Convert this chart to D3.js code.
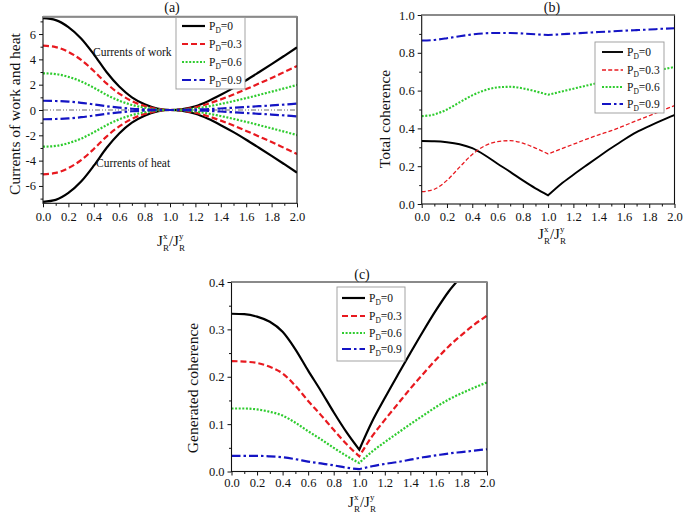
<!DOCTYPE html>
<html><head><meta charset="utf-8">
<script src="https://cdn.jsdelivr.net/npm/d3@7"></script>
<style>body{margin:0;background:#fff} text{font-family:"Liberation Serif","Times New Roman",serif;fill:#111}</style>
</head><body><svg id="chart" width="685" height="513"></svg>
<script>
// ---------- data ----------
const xValues = [0,0.1,0.2,0.3,0.4,0.5,0.6,0.7,0.8,0.9,1.0,1.1,1.2,1.3,1.4,1.5,1.6,1.7,1.8,1.9,2.0];
const pdLabels = ["0","0.3","0.6","0.9"];
const xTicks = [0,0.2,0.4,0.6,0.8,1.0,1.2,1.4,1.6,1.8,2.0];
const yTicksA = [-6,-4,-2,0,2,4,6];
const yTicksB = [0,0.2,0.4,0.6,0.8,1.0];
const yTicksC = [0,0.1,0.2,0.3,0.4];

// (a) currents of work (positive) and heat (negative)
const workPD0  = [7.25,7.1,6.55,5.65,4.4,3.0,1.85,1.0,0.45,0.12,0,0.08,0.3,0.7,1.2,1.75,2.35,2.98,3.62,4.28,4.95];
const workPD03 = [5.08,4.97,4.59,3.96,3.08,2.1,1.3,0.7,0.32,0.08,0,0.06,0.21,0.49,0.84,1.23,1.65,2.09,2.53,3.0,3.47];
const workPD06 = [2.9,2.84,2.62,2.26,1.76,1.2,0.74,0.4,0.18,0.05,0,0.03,0.12,0.28,0.48,0.7,0.94,1.19,1.45,1.71,1.98];
const workPD09 = [0.73,0.71,0.66,0.57,0.44,0.3,0.19,0.1,0.05,0.01,0,0.01,0.03,0.07,0.12,0.18,0.24,0.3,0.36,0.43,0.5];
const heatPD0  = [-7.25,-7.1,-6.55,-5.65,-4.4,-3.0,-1.85,-1.0,-0.45,-0.12,0,-0.08,-0.3,-0.7,-1.2,-1.75,-2.35,-2.98,-3.62,-4.28,-4.95];
const heatPD03 = [-5.08,-4.97,-4.59,-3.96,-3.08,-2.1,-1.3,-0.7,-0.32,-0.08,0,-0.06,-0.21,-0.49,-0.84,-1.23,-1.65,-2.09,-2.53,-3.0,-3.47];
const heatPD06 = [-2.9,-2.84,-2.62,-2.26,-1.76,-1.2,-0.74,-0.4,-0.18,-0.05,0,-0.03,-0.12,-0.28,-0.48,-0.7,-0.94,-1.19,-1.45,-1.71,-1.98];
const heatPD09 = [-0.73,-0.71,-0.66,-0.57,-0.44,-0.3,-0.19,-0.1,-0.05,-0.01,0,-0.01,-0.03,-0.07,-0.12,-0.18,-0.24,-0.3,-0.36,-0.43,-0.5];

// (b) total coherence
const totalPD0  = [0.333,0.332,0.327,0.316,0.295,0.258,0.213,0.17,0.125,0.083,0.046,0.105,0.155,0.203,0.25,0.296,0.34,0.38,0.412,0.442,0.47];
const totalPD03 = [0.065,0.078,0.125,0.195,0.262,0.308,0.33,0.335,0.322,0.296,0.265,0.291,0.316,0.342,0.366,0.388,0.414,0.441,0.467,0.494,0.52];
const totalPD06 = [0.465,0.474,0.5,0.538,0.575,0.602,0.617,0.62,0.612,0.596,0.578,0.594,0.61,0.626,0.641,0.656,0.671,0.685,0.699,0.712,0.725];
const totalPD09 = [0.865,0.868,0.877,0.888,0.897,0.903,0.905,0.905,0.902,0.898,0.894,0.898,0.902,0.906,0.91,0.913,0.917,0.92,0.923,0.927,0.93];

// (c) generated coherence
const genPD0  = [0.333,0.332,0.327,0.316,0.295,0.258,0.213,0.17,0.125,0.083,0.046,0.105,0.155,0.203,0.25,0.296,0.34,0.38,0.412,0.442,0.47];
const genPD03 = [0.233,0.232,0.229,0.221,0.207,0.181,0.149,0.119,0.088,0.058,0.032,0.074,0.109,0.142,0.175,0.206,0.236,0.264,0.288,0.31,0.329];
const genPD06 = [0.133,0.133,0.131,0.126,0.118,0.103,0.085,0.068,0.05,0.033,0.018,0.042,0.062,0.081,0.1,0.118,0.136,0.152,0.165,0.177,0.188];
const genPD09 = [0.033,0.033,0.033,0.032,0.03,0.026,0.021,0.017,0.013,0.008,0.005,0.011,0.016,0.02,0.025,0.03,0.034,0.038,0.041,0.044,0.047];

// ---------- styles ----------
const thick = [
  {color:"#000000", width:2.2, dash:null},
  {color:"#e8191f", width:2.2, dash:"6,3"},
  {color:"#2fcc2f", width:2.2, dash:"2,1.6"},
  {color:"#1414c4", width:2.2, dash:"9,3,2.5,3"}
];
const thinB = [
  {color:"#000000", width:1.9, dash:null},
  {color:"#e8191f", width:1.3, dash:"4,2.2"},
  {color:"#2fcc2f", width:2.1, dash:"2,1.6"},
  {color:"#1414c4", width:2.1, dash:"9,3,2.5,3"}
];

const svg = d3.select("#chart");
const minorX = d3.range(1,20,2).map(d=>d/10);

function drawPanel(o){
  const x = d3.scaleLinear().domain([0,2]).range([o.x0,o.x1]);
  const y = d3.scaleLinear().domain(o.yDomain).range([o.y1,o.y0]);
  const g = svg.append("g");
  const clipId = "clip-"+o.name;
  svg.append("clipPath").attr("id",clipId).append("rect")
    .attr("x",o.x0).attr("y",o.y0).attr("width",o.x1-o.x0).attr("height",o.y1-o.y0);

  const styleAxis = s => { s.select(".domain").remove(); s.selectAll("line").attr("stroke","#111"); s.selectAll("text").attr("font-size",12.5).attr("font-family","Liberation Serif, serif").attr("fill","#111"); };
  g.append("g").attr("transform",`translate(0,${o.y1})`)
    .call(d3.axisBottom(x).tickValues(minorX).tickSize(2.5).tickFormat("")).call(styleAxis);
  g.append("g").attr("transform",`translate(0,${o.y1})`)
    .call(d3.axisBottom(x).tickValues(xTicks).tickSize(4).tickPadding(o.xPad).tickFormat(d3.format(".1f"))).call(styleAxis);
  g.append("g").attr("transform",`translate(${o.x0},0)`)
    .call(d3.axisLeft(y).tickValues(o.yMinor).tickSize(2.5).tickFormat("")).call(styleAxis);
  g.append("g").attr("transform",`translate(${o.x0},0)`)
    .call(d3.axisLeft(y).tickValues(o.yTicks).tickSize(4).tickPadding(3).tickFormat(o.yFormat)).call(styleAxis);

  const plot = g.append("g").attr("clip-path",`url(#${clipId})`);
  if (o.zeroLine){
    plot.append("line").attr("x1",o.x0).attr("x2",o.x1).attr("y1",y(0)).attr("y2",y(0))
      .attr("stroke","#444").attr("stroke-width",0.8).attr("stroke-dasharray","5,2,1,2,1,2");
  }
  const line = d3.line().curve(d3.curveMonotoneX);
  o.series.forEach(s=>{
    const pts = xValues.map((xv,i)=>[x(xv), y(s.values[i])]);
    let d;
    if (o.split){
      d = line(pts.slice(0,11)) + line(pts.slice(10)).replace(/^M/,"L");
    } else d = line(pts);
    const st = o.styles[s.k];
    plot.append("path").attr("d",d).attr("fill","none").attr("stroke",st.color)
      .attr("stroke-width",st.width).attr("stroke-dasharray",st.dash);
  });

  g.append("rect").attr("x",o.x0).attr("y",o.y0).attr("width",o.x1-o.x0).attr("height",o.y1-o.y0)
    .attr("fill","none").attr("stroke","#111").attr("stroke-width",1.1);
  g.append("line").attr("x1",o.x0).attr("x2",o.x1).attr("y1",o.y0).attr("y2",o.y0)
    .attr("stroke","#8a8a8a").attr("stroke-width",2);

  const L = o.legend;
  g.append("rect").attr("x",L.x).attr("y",L.y).attr("width",L.w).attr("height",L.h)
    .attr("fill","#fff").attr("stroke","#999").attr("stroke-width",0.9);
  pdLabels.forEach((lab,i)=>{
    const yy = L.rows[i];
    const st = o.styles[i];
    g.append("line").attr("x1",L.lx0).attr("x2",L.lx1).attr("y1",yy).attr("y2",yy)
      .attr("stroke",st.color).attr("stroke-width",st.width).attr("stroke-dasharray",st.dash);
    const t = g.append("text").attr("x",L.tx).attr("y",yy+4).attr("font-size",11.5);
    t.append("tspan").text("P");
    t.append("tspan").attr("font-size",7.5).attr("dy",3).text("D");
    t.append("tspan").attr("dy",-3).text("="+lab);
  });

  g.append("text").attr("x",o.titleX).attr("y",o.titleY).attr("text-anchor","middle").attr("font-size",14).text(o.title);

  g.append("text").attr("transform",`translate(${o.yLabX},${o.yLabY}) rotate(-90)`)
    .attr("text-anchor","middle").attr("font-size",15.5).text(o.yLabel);

  const xt = g.append("text").attr("x",o.xLabX).attr("y",o.xLabY).attr("text-anchor","middle").attr("font-size",15);
  xt.append("tspan").text("J");
  xt.append("tspan").attr("font-size",9).attr("dy",-7).text("x");
  xt.append("tspan").attr("font-size",9).attr("dx",-4.5).attr("dy",12).text("R");
  xt.append("tspan").attr("dy",-5).text("/J");
  xt.append("tspan").attr("font-size",9).attr("dy",-7).text("y");
  xt.append("tspan").attr("font-size",9).attr("dx",-4.5).attr("dy",12).text("R");

  return {x,y,g};
}

const A = drawPanel({
  name:"a", x0:43, x1:297, y0:16.7, y1:203.3, yDomain:[-7.37,7.37],
  yTicks:yTicksA, yMinor:[-7,-5,-3,-1,1,3,5,7], yFormat:d=>String(d), xPad:5,
  zeroLine:true, split:false, styles:thick,
  series:[
    {k:0,values:workPD0},{k:1,values:workPD03},{k:2,values:workPD06},{k:3,values:workPD09},
    {k:0,values:heatPD0},{k:1,values:heatPD03},{k:2,values:heatPD06},{k:3,values:heatPD09}
  ],
  legend:{x:176,y:17.5,w:69,h:71.5,rows:[26,44,62,80],lx0:182,lx1:205,tx:209},
  title:"(a)", titleX:172, titleY:12,
  yLabel:"Currents of work and heat", yLabX:20, yLabY:114,
  xLabX:171, xLabY:246
});
A.g.append("text").attr("x",93).attr("y",56).attr("font-size",11.5).text("Currents of work");
A.g.append("text").attr("x",96).attr("y",167).attr("font-size",11.5).text("Currents of heat");

drawPanel({
  name:"b", x0:421.7, x1:674.5, y0:15, y1:204, yDomain:[0,1],
  yTicks:yTicksB, yMinor:d3.range(1,10,2).map(d=>d/10), yFormat:d3.format(".1f"), xPad:4,
  zeroLine:false, split:true, styles:thinB,
  series:[{k:0,values:totalPD0},{k:1,values:totalPD03},{k:2,values:totalPD06},{k:3,values:totalPD09}],
  legend:{x:595,y:42,w:69,h:71,rows:[52,70,87,104],lx0:602,lx1:623,tx:627},
  title:"(b)", titleX:552, titleY:12,
  yLabel:"Total coherence", yLabX:390, yLabY:119,
  xLabX:552, xLabY:239
});

drawPanel({
  name:"c", x0:231.5, x1:487, y0:282, y1:471.5, yDomain:[0,0.4],
  yTicks:yTicksC, yMinor:[0.05,0.15,0.25,0.35], yFormat:d3.format(".1f"), xPad:3,
  zeroLine:false, split:true, styles:thick,
  series:[{k:0,values:genPD0},{k:1,values:genPD03},{k:2,values:genPD06},{k:3,values:genPD09}],
  legend:{x:337,y:287,w:68,h:74,rows:[298,316,333,349],lx0:342,lx1:365,tx:369},
  title:"(c)", titleX:362, titleY:279,
  yLabel:"Generated coherence", yLabX:198, yLabY:388,
  xLabX:362, xLabY:507
});
</script></body></html>
